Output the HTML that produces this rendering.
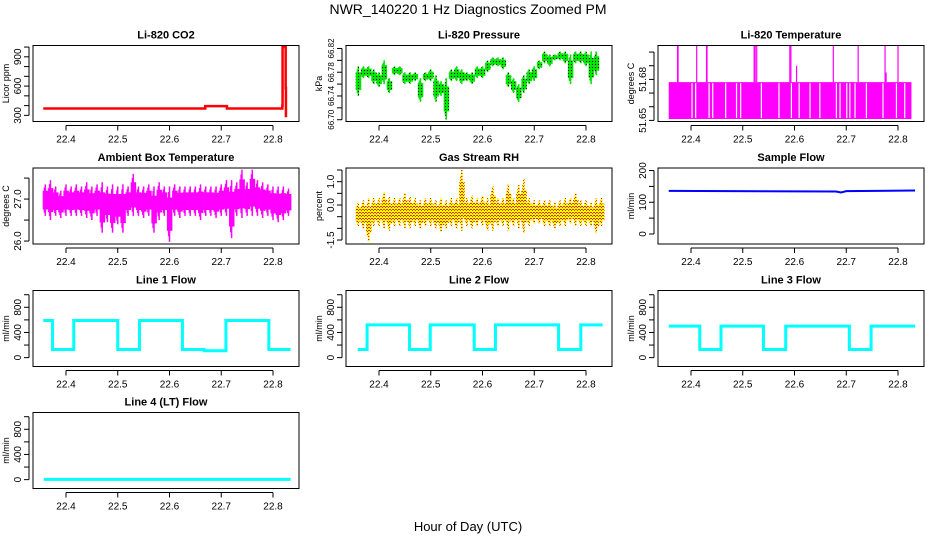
<!DOCTYPE html>
<html><head><meta charset="utf-8">
<style>
html,body{margin:0;padding:0;background:#fff;}
svg{display:block;font-family:"Liberation Sans",sans-serif;}
</style></head>
<body>
<svg id="chart" width="936" height="540" viewBox="0 0 936 540" xmlns="http://www.w3.org/2000/svg">
<defs>
<pattern id="greenDots" width="3" height="3" patternUnits="userSpaceOnUse"><rect width="3" height="3" fill="#00e600"/><rect x="1" y="1" width="1" height="1" fill="#000"/></pattern>
<pattern id="rhDots" width="3" height="3" patternUnits="userSpaceOnUse"><rect width="3" height="3" fill="#ffff00"/><rect x="1" y="0" width="1" height="1" fill="#e03000"/><rect x="0" y="2" width="1" height="1" fill="#e03000"/><rect x="2" y="2" width="1" height="1" fill="#e03000"/></pattern>
</defs>
<text x="468" y="14" text-anchor="middle" font-size="14">NWR_140220  1 Hz Diagnostics Zoomed PM</text>
<text x="468" y="531" text-anchor="middle" font-size="13">Hour of Day (UTC)</text>
</svg>
<script>
// ---- data ----
const xTicks = [22.4, 22.5, 22.6, 22.7, 22.8];
const xTickLabels = ["22.4", "22.5", "22.6", "22.7", "22.8"];

const co2Hours = [22.356, 22.669, 22.669, 22.711, 22.711, 22.785, 22.815, 22.818, 22.8185, 22.824, 22.8245, 22.825];
const co2Values = [370, 370, 395, 395, 370, 370, 370, 400, 1000, 1000, 580, 280];

const pressHours = [22.36,22.37,22.38,22.39,22.40,22.41,22.42,22.43,22.44,22.45,22.46,22.47,22.48,22.49,22.50,22.51,22.52,22.53,22.54,22.55,22.56,22.57,22.58,22.59,22.60,22.61,22.62,22.63,22.64,22.65,22.66,22.67,22.68,22.69,22.70,22.71,22.72,22.73,22.74,22.75,22.76,22.77,22.78,22.79,22.80,22.81,22.82];
const pressLo = [66.74,66.77,66.77,66.76,66.755,66.76,66.745,66.775,66.775,66.76,66.76,66.765,66.73,66.765,66.765,66.73,66.74,66.70,66.765,66.765,66.76,66.765,66.76,66.77,66.77,66.78,66.79,66.79,66.785,66.755,66.745,66.73,66.745,66.76,66.765,66.785,66.795,66.79,66.80,66.80,66.795,66.76,66.795,66.795,66.79,66.76,66.775];
const pressHi = [66.79,66.79,66.79,66.785,66.78,66.80,66.77,66.79,66.79,66.78,66.78,66.78,66.77,66.78,66.785,66.775,66.765,66.77,66.785,66.79,66.785,66.78,66.78,66.79,66.79,66.80,66.805,66.805,66.805,66.78,66.77,66.76,66.775,66.785,66.79,66.80,66.815,66.81,66.81,66.815,66.815,66.81,66.815,66.815,66.815,66.815,66.815];

const tempRange = [22.357, 22.826];
const tempBase = [51.651, 51.678];
const tempSpikeHours = [22.374,22.375,22.411,22.430,22.431,22.522,22.524,22.527,22.591,22.593,22.604,22.675,22.723,22.775,22.777,22.800];
const tempSpikeValues = [51.705,51.705,51.705,51.705,51.705,51.705,51.705,51.705,51.705,51.705,51.69,51.705,51.705,51.705,51.685,51.705];
const tempGapHours = [22.402,22.409,22.435,22.442,22.467,22.488,22.496,22.536,22.570,22.594,22.609,22.630,22.649,22.681,22.688,22.701,22.707,22.717,22.739,22.771,22.797,22.813];

const binHours = [22.36,22.37,22.38,22.39,22.40,22.41,22.42,22.43,22.44,22.45,22.46,22.47,22.48,22.49,22.50,22.51,22.52,22.53,22.54,22.55,22.56,22.57,22.58,22.59,22.60,22.61,22.62,22.63,22.64,22.65,22.66,22.67,22.68,22.69,22.70,22.71,22.72,22.73,22.74,22.75,22.76,22.77,22.78,22.79,22.80,22.81,22.82,22.83];
const ambHi = [27.35,27.45,27.3,27.2,27.35,27.3,27.35,27.3,27.4,27.3,27.35,27.4,27.3,27.35,27.3,27.35,27.3,27.6,27.3,27.3,27.35,27.3,27.4,27.3,27.3,27.35,27.3,27.3,27.3,27.3,27.35,27.3,27.3,27.3,27.35,27.45,27.45,27.4,27.7,27.4,27.7,27.45,27.4,27.35,27.3,27.3,27.3,27.25];
const ambLo = [26.6,26.5,26.6,26.55,26.6,26.6,26.6,26.6,26.55,26.5,26.6,26.2,26.45,26.2,26.4,26.2,26.6,26.6,26.6,26.55,26.6,26.2,26.5,26.6,25.98,26.6,26.55,26.6,26.6,26.6,26.5,26.6,26.6,26.55,26.6,26.6,26.07,26.6,26.55,26.6,26.6,26.6,26.55,26.6,26.5,26.45,26.5,26.6];
const rhHi = [0.1,0.2,0.3,0.3,0.3,0.55,0.35,0.3,0.3,0.5,0.35,0.3,0.2,0.3,0.3,0.2,0.3,0.2,0.3,0.3,1.5,0.3,0.4,0.3,0.4,0.3,0.8,0.3,0.3,0.9,0.3,0.85,1.1,0.3,0.2,0.2,0.2,0.2,0.1,0.2,0.3,0.3,0.5,0.2,0.2,0.1,0.3,0.3];
const rhLo = [-0.9,-1.0,-1.55,-0.9,-0.9,-1.0,-1.1,-0.9,-0.9,-1.0,-1.0,-0.9,-1.0,-0.9,-0.9,-1.0,-1.15,-1.0,-0.9,-1.0,-1.1,-0.9,-1.0,-0.9,-0.9,-1.1,-1.1,-0.9,-0.9,-1.1,-0.9,-1.0,-1.2,-0.9,-0.8,-0.8,-0.9,-0.9,-1.0,-0.9,-0.9,-0.8,-0.9,-0.9,-0.9,-0.9,-1.2,-0.9];

const sampleHours = [22.357, 22.68, 22.69, 22.70, 22.833];
const sampleValues = [136, 134, 131, 135, 137];

const line1Hours = [22.356,22.374,22.415,22.500,22.542,22.625,22.667,22.709,22.792,22.834];
const line1Values = [590,130,590,130,590,130,110,590,130,130];
const line2Hours = [22.359,22.377,22.459,22.499,22.584,22.625,22.747,22.790,22.832];
const line2Values = [130,520,130,520,130,520,130,520,520];
const line3Hours = [22.357,22.417,22.458,22.540,22.583,22.706,22.748,22.833];
const line3Values = [500,130,500,130,500,130,500,500];
const line4Hours = [22.357,22.834];
const line4Values = [5,5];

// ---- layout ----
const SVGNS = "http://www.w3.org/2000/svg";
const svg = document.getElementById('chart');
const colLeft = [33, 346, 658];
const rowTop = [45.5, 168, 290.5, 412.5];
const boxW = 266, boxH = 76;
const xMin = 22.4 - 33/517.5, xMax = xMin + boxW/517.5;

function mk(tag, parent, attrs) {
  const e = document.createElementNS(SVGNS, tag);
  for (const k in attrs) e.setAttribute(k, attrs[k]);
  parent.appendChild(e);
  return e;
}

function panel(col, row, title, ytitle, yDom, yTicks, yLabels, name, labelSize) {
  const L = colLeft[col], T = rowTop[row];
  const g = mk('g', svg, {});
  
  
  const sx = h => L + (h - xMin) / (xMax - xMin) * boxW;
  const sy = v => T + boxH - (v - yDom[0]) / (yDom[1] - yDom[0]) * boxH;
  const t = mk('text', g, {x: L + boxW/2, y: T - 7, 'text-anchor': 'middle', 'font-size': 11, 'font-weight': 'bold'});
  t.textContent = title;
  
  
  const clip = mk('clipPath', g, {id: 'clip-' + name});
  mk('rect', clip, {x: L, y: T, width: boxW, height: boxH});
  const plot = mk('g', g, {'clip-path': 'url(#clip-' + name + ')'});
  
  
  const box = mk('rect', g, {x: L, y: T, width: boxW, height: boxH, fill: 'none', stroke: '#000', 'stroke-width': 1});
  
  
  const xa = mk('g', g, {});
  
  
  const x0 = sx(xTicks[0]), x1 = sx(xTicks[xTicks.length-1]);
  mk('line', xa, {x1: x0, x2: x1, y1: T + boxH + 4, y2: T + boxH + 4, stroke: '#000'});
  xTicks.forEach((v, i) => {
    const x = sx(v);
    mk('line', xa, {x1: x, x2: x, y1: T + boxH + 4, y2: T + boxH + 9, stroke: '#000'});
    const lt = mk('text', xa, {x: x, y: T + boxH + 21, 'text-anchor': 'middle', 'font-size': 10});
    lt.textContent = xTickLabels[i];
  });
  const ya = mk('g', g, {});
  
  
  mk('line', ya, {x1: L - 4, x2: L - 4, y1: sy(yTicks[0]), y2: sy(yTicks[yTicks.length-1]), stroke: '#000'});
  yTicks.forEach(v => {
    mk('line', ya, {x1: L - 9, x2: L - 4, y1: sy(v), y2: sy(v), stroke: '#000'});
  });
  yLabels.forEach(lb => {
    const y = sy(parseFloat(lb));
    const lt = mk('text', ya, {x: 0, y: 0, 'text-anchor': 'middle', 'font-size': labelSize || 10, transform: 'translate(' + (L - 12) + ',' + y + ') rotate(-90)'});
    lt.textContent = lb;
  });
  const yt = mk('text', g, {x: 0, y: 0, 'text-anchor': 'middle', 'font-size': 9, transform: 'translate(' + (L - 24) + ',' + (T + boxH/2) + ') rotate(-90)'});
  yt.textContent = ytitle;
  
  
  return {plot, sx, sy};
}

function stepLine(p, hours, values, color, width, name) {
  let d = '';
  hours.forEach((h, i) => {
    const x = p.sx(h);
    if (i === 0) d += 'M' + x + ',' + p.sy(values[0]);
    else d += 'L' + x + ',' + p.sy(values[i-1]) + 'L' + x + ',' + p.sy(values[i]);
  });
  const path = mk('path', p.plot, {d: d, fill: 'none', stroke: color, 'stroke-width': width});
  
  
}

// draws each bin as a cluster of thin vertical strokes spanning lo..hi
function bands(p, hours, lo, hi, fill, name) {
  const step = hours[1] - hours[0];
  hours.forEach((h, i) => {
    const x0 = p.sx(h - step/2), x1 = p.sx(h + step/2);
    const core = mk('rect', p.plot, {x: x0, y: p.sy(hi[i]) + (p.sy(lo[i]) - p.sy(hi[i])) * 0.2, width: x1 - x0 + 0.3, height: Math.max(1, (p.sy(lo[i]) - p.sy(hi[i])) * 0.6), fill: fill});
    
    
    const r = mk('rect', p.plot, {x: (x0 + x1) / 2 - 0.75, y: p.sy(hi[i]), width: 1.5, height: Math.max(1, p.sy(lo[i]) - p.sy(hi[i])), fill: fill});
    
    
    const r2 = mk('rect', p.plot, {x: x0 + 1, y: p.sy(hi[i]) + (p.sy(lo[i]) - p.sy(hi[i])) * 0.1, width: 1.2, height: Math.max(1, (p.sy(lo[i]) - p.sy(hi[i])) * 0.8), fill: fill});
    
    
  });
}

const p1 = panel(0, 0, 'Li-820 CO2', 'Licor ppm', [237, 1016], [300,400,500,600,700,800,900,1000], ['300','600','900'], 'co2');
stepLine(p1, co2Hours, co2Values, '#ff0000', 2.5, 'co2-line');

const p2 = panel(1, 0, 'Li-820 Pressure', 'kPa', [66.697, 66.825], [66.70,66.72,66.74,66.76,66.78,66.80,66.82], ['66.70','66.74','66.78','66.82'], 'pressure', 8);
bands(p2, pressHours, pressLo, pressHi, 'url(#greenDots)', 'pressure-band');

const p3 = panel(2, 0, 'Li-820 Temperature', 'degrees C', [51.6492, 51.7048], [51.65,51.66,51.67,51.68,51.69,51.70], ['51.65','51.68'], 'li820-temp');
{
  const r = mk('rect', p3.plot, {x: p3.sx(tempRange[0]), y: p3.sy(tempBase[1]), width: p3.sx(tempRange[1]) - p3.sx(tempRange[0]), height: p3.sy(tempBase[0]) - p3.sy(tempBase[1]), fill: '#ff00ff'});
  
  
  tempGapHours.forEach(h => {
    const gl = mk('line', p3.plot, {x1: p3.sx(h), x2: p3.sx(h), y1: p3.sy(tempBase[1]) + 1, y2: p3.sy(tempBase[0]) - 1, stroke: '#fff', 'stroke-width': 1.2});
    
    
  });
  tempSpikeHours.forEach((h, i) => {
    const sl = mk('line', p3.plot, {x1: p3.sx(h), x2: p3.sx(h), y1: p3.sy(tempSpikeValues[i]), y2: p3.sy(tempBase[1]), stroke: '#ff00ff', 'stroke-width': 1.2});
    
    
  });
}

const p4 = panel(0, 1, 'Ambient Box Temperature', 'degrees C', [25.93, 27.74], [26.0,26.5,27.0,27.5], ['26.0','27.0'], 'ambient-temp');
bands(p4, binHours, ambLo, ambHi, '#ff00ff', 'ambient-temp-band');

const p5 = panel(1, 1, 'Gas Stream RH', 'percent', [-1.67, 1.586], [-1.5,-1.0,-0.5,0.0,0.5,1.0,1.5], ['-1.5','0.0','1.0'], 'gas-rh');
bands(p5, binHours, rhLo, rhHi, 'url(#rhDots)', 'gas-rh-band');

const p6 = panel(2, 1, 'Sample Flow', 'ml/min', [-31.5, 208], [0,50,100,150,200], ['0','100','200'], 'sample-flow');
{
  const pts = sampleHours.map((h, i) => p6.sx(h) + ',' + p6.sy(sampleValues[i])).join(' ');
  const pl = mk('polyline', p6.plot, {points: pts, fill: 'none', stroke: '#0000ff', 'stroke-width': 2});
  
  
}

const flowDom = [-141, 1067], flowTicks = [0,200,400,600,800,1000], flowLabels = ['0','400','800'];
const p7 = panel(0, 2, 'Line 1 Flow', 'ml/min', flowDom, flowTicks, flowLabels, 'line1-flow');
stepLine(p7, line1Hours, line1Values, '#00ffff', 3, 'line1-flow-line');
const p8 = panel(1, 2, 'Line 2 Flow', 'ml/min', flowDom, flowTicks, flowLabels, 'line2-flow');
stepLine(p8, line2Hours, line2Values, '#00ffff', 3, 'line2-flow-line');
const p9 = panel(2, 2, 'Line 3 Flow', 'ml/min', flowDom, flowTicks, flowLabels, 'line3-flow');
stepLine(p9, line3Hours, line3Values, '#00ffff', 3, 'line3-flow-line');
const p10 = panel(0, 3, 'Line 4 (LT) Flow', 'ml/min', flowDom, flowTicks, flowLabels, 'line4-flow');
stepLine(p10, line4Hours, line4Values, '#00ffff', 3, 'line4-flow-line');
</script>
</body></html>
